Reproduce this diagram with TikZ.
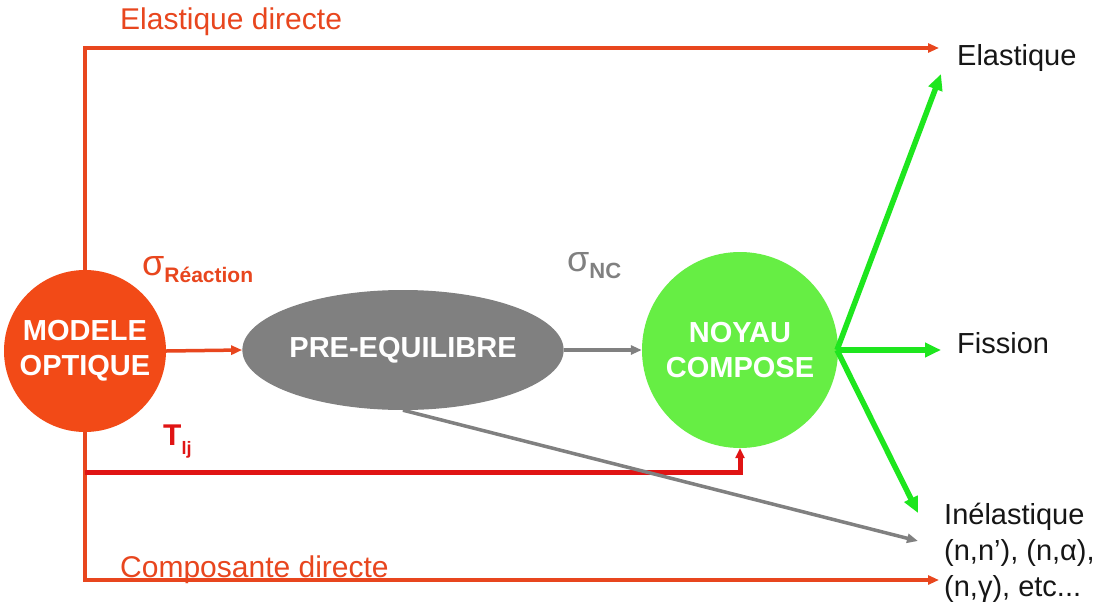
\documentclass[tikz,border=0pt]{standalone}
\usepackage{fontspec}
\setmainfont{Liberation Sans}
\usetikzlibrary{arrows.meta,shapes.geometric}
\definecolor{orl}{HTML}{E8461E}
\definecolor{mofill}{HTML}{F24A17}
\definecolor{redl}{HTML}{E01414}
\definecolor{ncfill}{HTML}{66EE44}
\definecolor{grl}{HTML}{1EE61E}
\definecolor{gyl}{HTML}{808080}
\definecolor{txt}{HTML}{161616}
\begin{document}
\begin{tikzpicture}[x=1pt,y=-1pt,
  bubble/.style={inner sep=0pt,align=center,text=white,font=\fontsize{29}{35}\selectfont\bfseries},
  olabel/.style={anchor=west,inner sep=0pt,text=orl,font=\fontsize{30}{36}\selectfont},
  blabel/.style={anchor=west,inner sep=0pt,text=txt,font=\fontsize{29}{35}\selectfont},
  oline/.style={draw=orl,line width=3.5pt},
  rline/.style={draw=redl,line width=5pt},
  gyline/.style={draw=gyl,line width=3.5pt},
  gline/.style={draw=grl,line width=5.5pt},
  otip/.style={-{Triangle[length=11pt,width=9pt]}},
  gtip/.style={-{Triangle[length=16pt,width=14pt]}}]
\useasboundingbox (0,0) rectangle (1108,613);
\fill[white] (0,0) rectangle (1108,613);
% nodes
\node[bubble,circle,fill=mofill,minimum size=162pt] (mo) at (85,351) {MODELE\\OPTIQUE};
\node[bubble,ellipse,fill=gyl,minimum width=320pt,minimum height=120pt] (pre) at (403,350) {PRE-EQUILIBRE};
\node[bubble,circle,fill=ncfill,minimum size=196pt] (nc) at (740,350) {NOYAU\\COMPOSE};
\node[blabel] (el) at (957,58) {Elastique};
\node[blabel] (fi) at (957,343) {Fission};
\node[blabel] (inel) at (944,517) {Inélastique};
\node[blabel] (r1) at (944,553) {(n,n'), (n,α),};
\node[blabel] (r2) at (944,589) {(n,γ), etc...};
% labels
\node[olabel] (ed) at (120,22) {Elastique directe};
\node[olabel] (cd) at (120,570) {Composante directe};
\node[anchor=west,inner sep=0pt,text=orl] (sr) at (142,270) {{\fontsize{36}{36}\selectfont σ}\raisebox{-7pt}{\fontsize{21}{21}\selectfont\bfseries Réaction}};
\node[anchor=west,inner sep=0pt,text=gyl] (snc) at (567,266) {{\fontsize{36}{36}\selectfont σ}\raisebox{-7pt}{\fontsize{22}{22}\selectfont\bfseries NC}};
\node[anchor=west,inner sep=0pt,text=redl] (tlj) at (163,442) {{\fontsize{30}{30}\selectfont\bfseries T}\raisebox{-9pt}{\fontsize{18}{18}\selectfont\bfseries lj}};
% coordinates
\coordinate (eltip) at (939,48);
\coordinate (cdtip) at (939,580);
\coordinate (tstart) at (85,472);
\coordinate (gytip) at (918,541);
\coordinate (gj) at (837,350);
\coordinate (g1) at (941,74);
\coordinate (g2) at (941,350);
\coordinate (g3) at (918,513);
% connectors
\draw[oline,otip] (mo.north) |- (eltip);
\draw[oline,otip] (mo.south) |- (cdtip);
\draw[rline,-{Triangle[length=10pt,width=9pt]}] (tstart) -| (nc.south);
\draw[oline,otip] (mo.east) -- (pre.west);
\draw[gyline,otip] (pre.east) -- (nc.west);
\draw[gyline,otip] (pre.south) -- (gytip);
\draw[gline,gtip] (gj) -- (g1);
\draw[gline,gtip] (gj) -- (g2);
\draw[gline,gtip] (gj) -- (g3);
\end{tikzpicture}
\end{document}
